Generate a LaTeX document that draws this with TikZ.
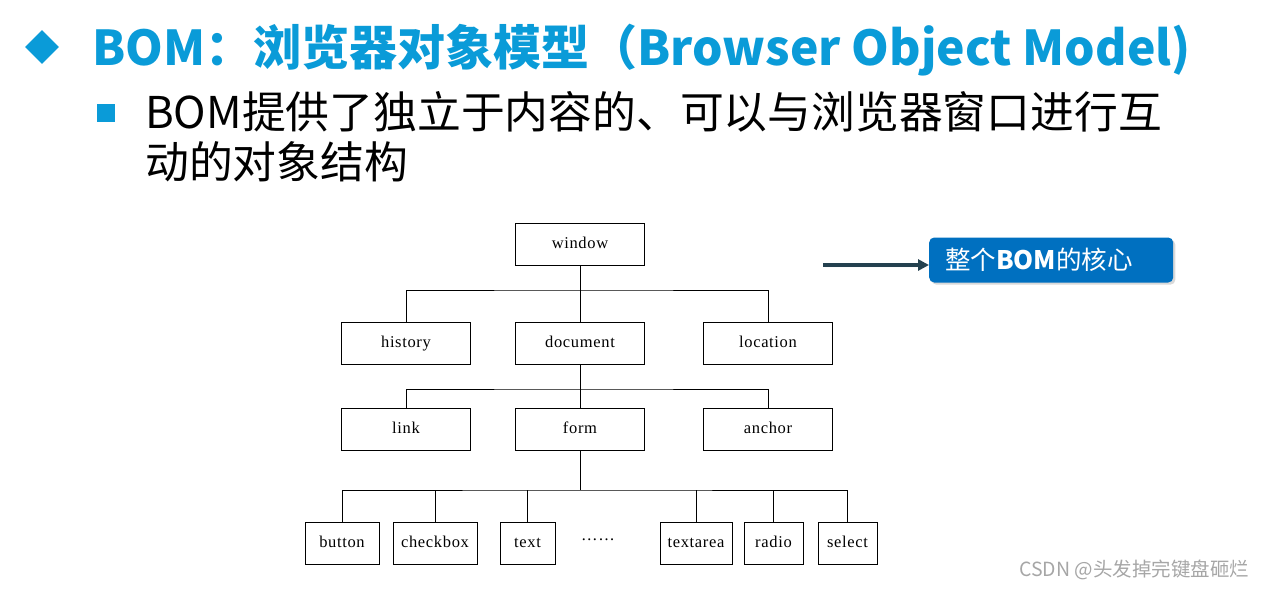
\documentclass[tikz,border=0pt]{standalone}
\usepackage{fontspec}
\usepackage{tikz}
\usetikzlibrary{arrows.meta,shapes.geometric,shadows}
\newfontfamily\cjkfont{Noto Sans CJK SC}
\newfontfamily\treefont{Liberation Serif}[LetterSpace=4]
\definecolor{bomBlue}{HTML}{0A9BD8}
\definecolor{bomCallout}{HTML}{0070C0}
\definecolor{bomArrow}{HTML}{24414F}
\definecolor{bomGrey}{HTML}{A6A6A6}

\begin{document}
\begin{tikzpicture}[x=1pt,y=-1pt]
  \tikzset{objbox/.style={draw=black,line width=.8pt,minimum height=42pt,inner sep=0pt,text height=11pt,text depth=3pt,font=\treefont\fontsize{16.5}{18}\selectfont},
    wire/.style={draw=black,line width=.8pt}}
  \useasboundingbox (0,0) rectangle (1266,589);
  % heading and intro
  \node[diamond,fill=bomBlue,minimum size=34pt,inner sep=0pt] (mark) at (42,47) {};
  \node[anchor=base west,inner sep=0pt,text=bomBlue,font=\cjkfont\bfseries\fontsize{48}{52}\selectfont] (title) at (92,65) {BOM：浏览器对象模型（Browser Object Model)};
  \node[fill=bomBlue,minimum size=18pt,inner sep=0pt] (bullet) at (106,113) {};
  \node[anchor=base west,inner sep=0pt,font=\cjkfont\fontsize{43.8}{50}\selectfont] (intro) at (145,128) {BOM提供了独立于内容的、可以与浏览器窗口进行互};
  \node[anchor=base west,inner sep=0pt,font=\cjkfont\fontsize{43.8}{50}\selectfont] (introtail) at (145,178) {动的对象结构};
  % object tree
  \node[objbox,minimum width=129pt] (window) at (580,244) {window};
  \node[objbox,minimum width=129pt] (history) at (406,343) {history};
  \node[objbox,minimum width=129pt] (document) at (580,343) {document};
  \node[objbox,minimum width=129pt] (location) at (768,343) {location};
  \node[objbox,minimum width=129pt] (link) at (406,429) {link};
  \node[objbox,minimum width=129pt] (form) at (580,429) {form};
  \node[objbox,minimum width=129pt] (anchorobj) at (768,429) {anchor};
  \node[objbox,minimum width=74pt] (button) at (342,543) {button};
  \node[objbox,minimum width=84pt] (checkbox) at (435,543) {checkbox};
  \node[objbox,minimum width=55pt] (textobj) at (527.5,543) {text};
  \node[inner sep=0pt,font=\treefont\fontsize{16.5}{18}\selectfont] (dots) at (598,540) {……};
  \node[objbox,minimum width=72pt] (textarea) at (696,543) {textarea};
  \node[objbox,minimum width=59pt] (radio) at (773.5,543) {radio};
  \node[objbox,minimum width=59pt] (select) at (847.5,543) {select};
  \coordinate (bus1) at (580,290);
  \coordinate (bus2) at (580,389);
  \coordinate (bus3) at (580,490);
  \draw[wire] (window) -- (document);
  \draw[wire] (history.north) |- (bus1) -| (location.north);
  \draw[wire] (document) -- (form);
  \draw[wire] (link.north) |- (bus2) -| (anchorobj.north);
  \draw[wire] (form.south) -- (bus3);
  \draw[wire] (button.north) |- (bus3) -| (select.north);
  \foreach \leaf in {checkbox,textobj,textarea,radio}
    \draw[wire] (\leaf.north) -- (\leaf.north |- bus3);
  % callout
  \node[anchor=west,fill=bomCallout,rounded corners=5pt,drop shadow={opacity=.3},text=white,text width=212pt,align=left,inner xsep=16pt,minimum height=45pt,font=\cjkfont\fontsize{25.5}{28}\selectfont] (core) at (929,260) {整个\textbf{BOM}的核心};
  \coordinate (pointer) at (823,265);
  \draw[-{Triangle[length=11pt,width=11pt]},line width=3.6pt,bomArrow,drop shadow={opacity=.25}] (pointer) -- (pointer -| core.west);
  % watermark
  \node[anchor=west,inner sep=0pt,text=bomGrey,font=\cjkfont\fontsize{19.5}{22}\selectfont] (credit) at (1019,570) {CSDN @头发掉完键盘砸烂};
\end{tikzpicture}
\end{document}
